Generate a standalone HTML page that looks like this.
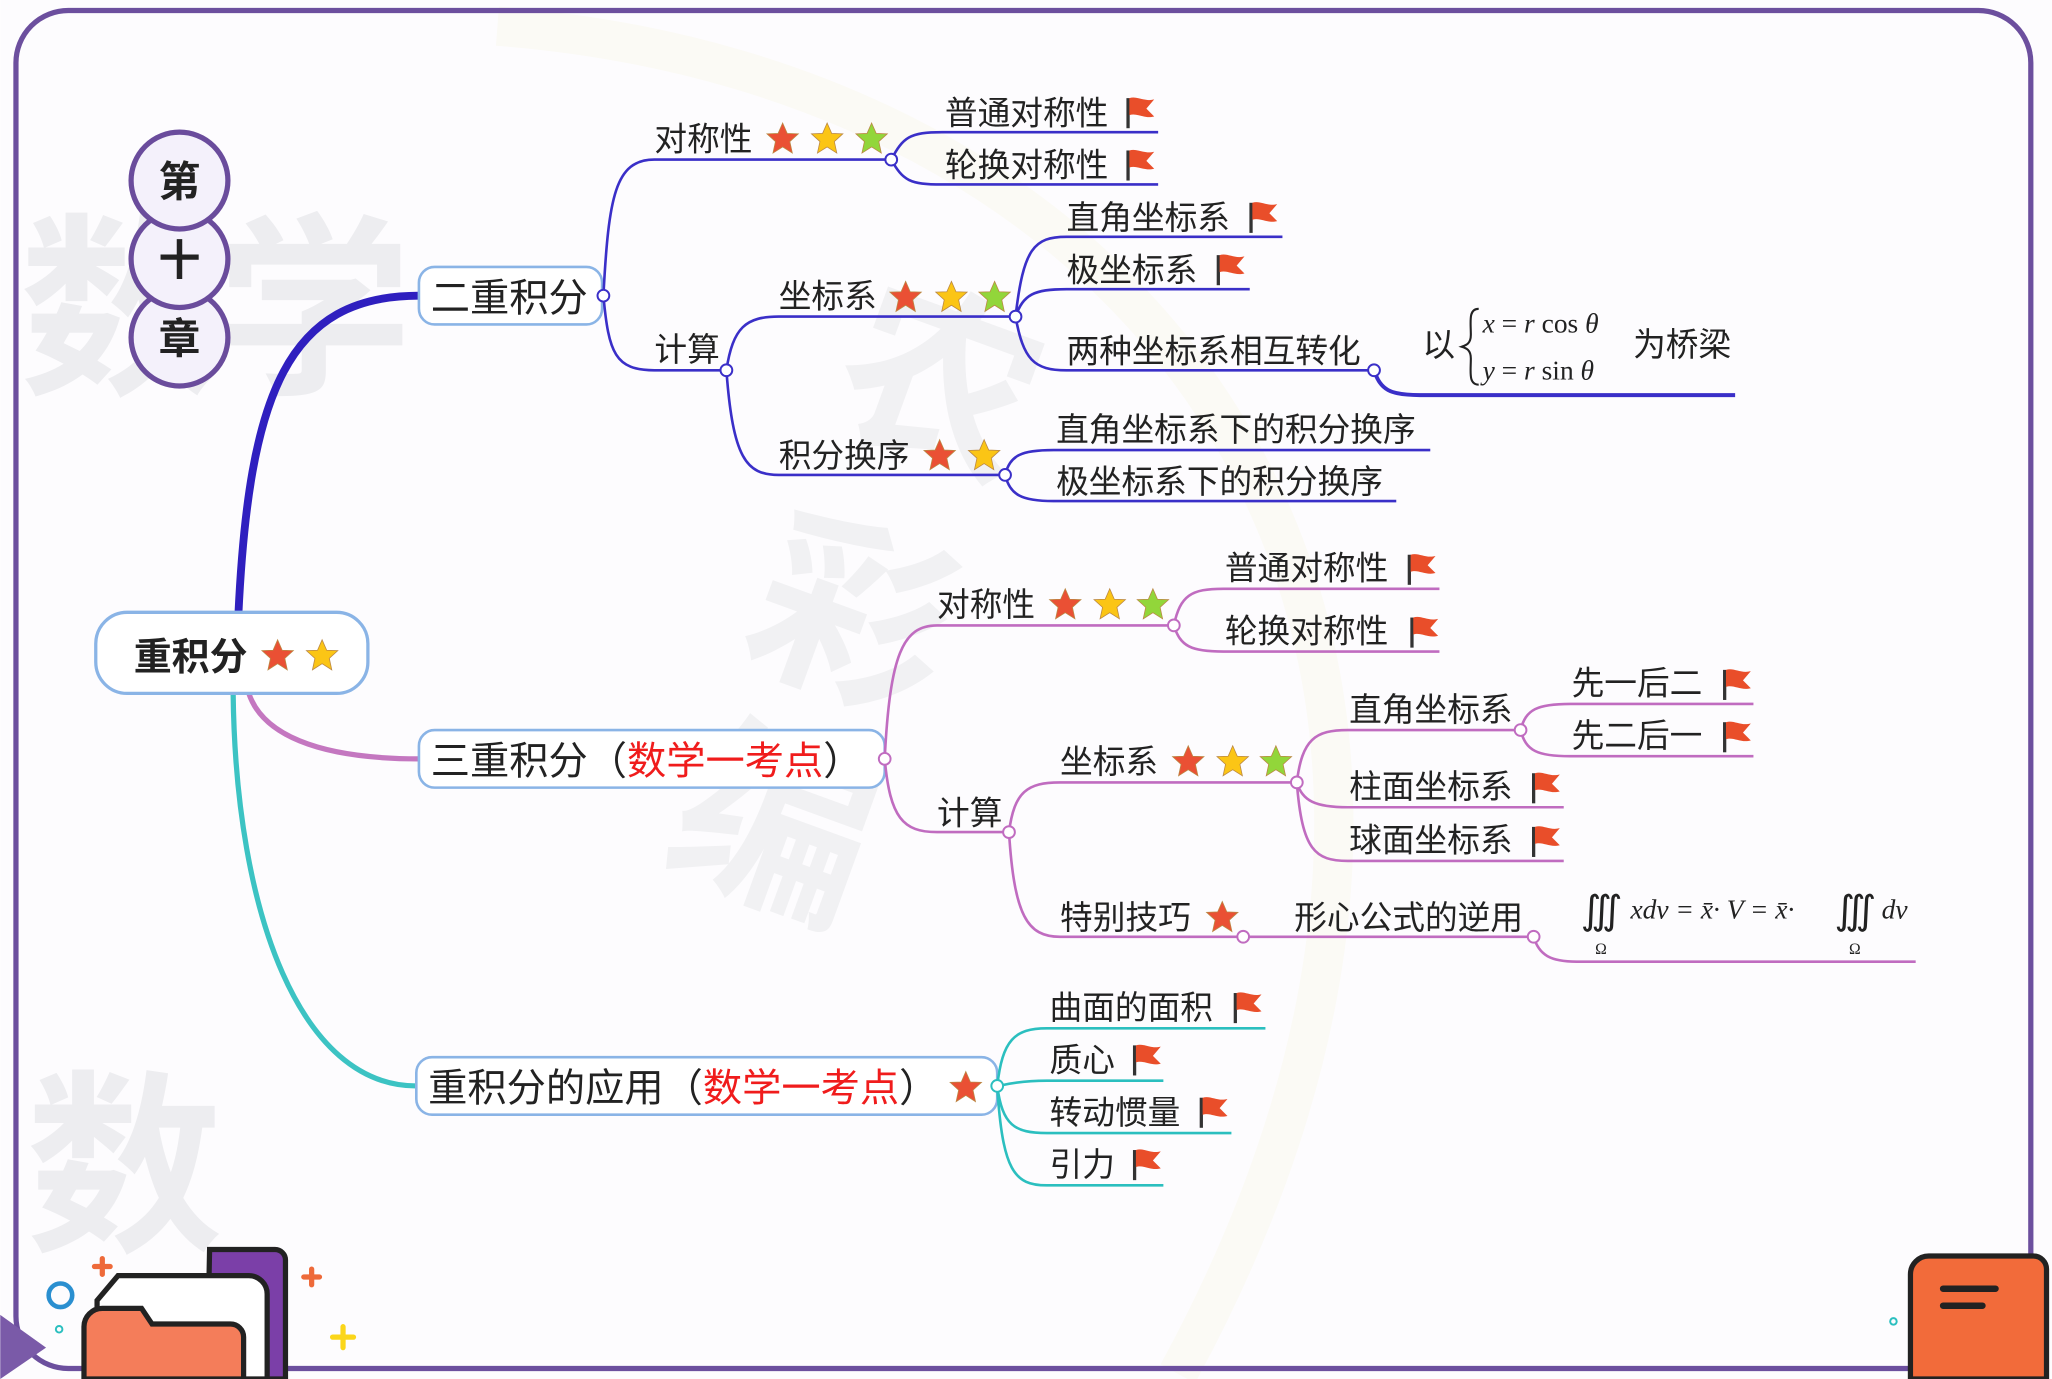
<!DOCTYPE html>
<html><head><meta charset="utf-8"><style>
html,body{margin:0;padding:0;background:#fff;}
svg{display:block;}
text{font-family:"Liberation Sans","Noto Sans CJK SC",sans-serif;fill:#222;}
.t{font-size:25px;}
.n{font-size:30px;}
.m{font-family:"Liberation Serif",serif;font-style:italic;font-size:21px;}
</style></head><body>
<svg width="2052" height="1379" viewBox="0 0 1568 1054" xmlns="http://www.w3.org/2000/svg">
<defs>
<g id="st"><path d="M0,-12 L3.5,-4 L12,-3.7 L5.5,2.2 L7.4,11 L0,6.3 L-7.4,11 L-5.5,2.2 L-12,-3.7 L-3.5,-4Z" stroke="#b84" stroke-width="0.6"/></g>
<g id="fl"><path d="M0,-11 L0,12" stroke="#333" stroke-width="2.5"/><path d="M1,-11 C7,-13 12,-8 20,-10 L14,-3 L20,3 C12,5 7,0 1,2Z" fill="#e94e2a"/></g>
</defs>
<rect width="1568" height="1054" fill="#fdfcfe"/>
<g font-weight="bold">
<text x="15" y="290" font-size="150" style="fill:#ededf0">数学</text>
<text x="20" y="945" font-size="150" style="fill:#ededf0">数</text>
<text x="640" y="340" font-size="150" style="fill:#f1f1f3" transform="rotate(20 700 300)">农</text>
<text x="580" y="520" font-size="150" style="fill:#f1f1f3" transform="rotate(20 640 460)">彩</text>
<text x="520" y="680" font-size="150" style="fill:#f1f1f3" transform="rotate(20 580 620)">编</text>
</g>
<path d="M380,20 C900,60 1200,500 900,1050" fill="none" stroke="#fbfaf5" stroke-width="30"/>
<rect x="12" y="8" width="1540" height="1038" rx="40" fill="none" stroke="#6c4f9e" stroke-width="4"/>
<g fill="#f4f1fb" stroke="#6a4c9c" stroke-width="4">
<circle cx="137" cy="258" r="37"/><circle cx="137" cy="198" r="37"/><circle cx="137" cy="138" r="37"/>
</g>
<g font-weight="bold" font-size="32" text-anchor="middle">
<text x="137" y="150">第</text><text x="137" y="210">十</text><text x="137" y="270">章</text>
</g>
<path d="M182,470 C190,300 220,226 320,226" fill="none" stroke="#2f1fbf" stroke-width="6"/>
<path d="M190,530 C200,560 240,580 320,580" fill="none" stroke="#c477c0" stroke-width="4"/>
<path d="M178,530 C180,700 230,830 318,830" fill="none" stroke="#3cc3c3" stroke-width="4"/>
<rect x="73" y="468" width="208" height="62" rx="24" fill="#fff" stroke="#8ab4e6" stroke-width="2.5"/>
<text x="102" y="512" font-size="29" font-weight="bold">重积分</text>
<use href="#st" x="212" y="501" fill="#ea5034"/><use href="#st" x="246" y="501" fill="#fbc515"/>
<rect x="320" y="204" width="140" height="44" rx="12" fill="#fff" stroke="#8ab4e6" stroke-width="2"/>
<text class="n" x="329" y="238">二重积分</text>
<rect x="320" y="558" width="356" height="44" rx="12" fill="#fff" stroke="#8ab4e6" stroke-width="2"/>
<text class="n" x="329" y="592">三重积分（<tspan style="fill:#f01c1c">数学一考点</tspan>）</text>
<rect x="318" y="808" width="444" height="44" rx="12" fill="#fff" stroke="#8ab4e6" stroke-width="2"/>
<text class="n" x="327" y="842">重积分的应用（<tspan style="fill:#f01c1c">数学一考点</tspan>）</text>
<use href="#st" x="738" y="831" fill="#ea5034"/>

<g fill="none" stroke="#3a2fc8" stroke-width="2">
<path d="M461,226 C465,150 470,122 500,122 L681,122"/>
<path d="M461,226 C465,270 470,283 500,283 L555,283"/>
<path d="M681,122 C690,105 695,101 720,101 L885,101"/>
<path d="M681,122 C690,138 695,141 720,141 L885,141"/>
<path d="M555,283 C560,250 570,242 595,242 L776,242"/>
<path d="M555,283 C560,350 570,363 595,363 L768,363"/>
<path d="M776,242 C782,190 790,181 815,181 L980,181"/>
<path d="M776,242 C782,225 790,221 815,221 L955,221"/>
<path d="M776,242 C782,275 790,283 815,283 L1050,283"/>
<path d="M1050,283 C1055,298 1062,302 1085,302 L1326,302" stroke-width="3"/>
<path d="M768,363 C772,348 780,344 805,344 L1093,344"/>
<path d="M768,363 C772,378 780,383 805,383 L1067,383"/>
</g>
<g fill="#fff" stroke="#3a2fc8" stroke-width="1.5">
<circle cx="461" cy="226" r="4.5"/><circle cx="681" cy="122" r="4.5"/><circle cx="555" cy="283" r="4.5"/>
<circle cx="776" cy="242" r="4.5"/><circle cx="768" cy="363" r="4.5"/><circle cx="1050" cy="283" r="4.5"/>
</g>
<text class="t" x="500" y="115">对称性</text>
<use href="#st" x="598" y="106" fill="#ea5034"/><use href="#st" x="632" y="106" fill="#fbc515"/><use href="#st" x="666" y="106" fill="#92d63a"/>
<text class="t" x="722" y="95">普通对称性</text><use href="#fl" x="862" y="86"/>
<text class="t" x="722" y="135">轮换对称性</text><use href="#fl" x="862" y="126"/>
<text class="t" x="500" y="276">计算</text>
<text class="t" x="595" y="235">坐标系</text>
<use href="#st" x="692" y="227" fill="#ea5034"/><use href="#st" x="727" y="227" fill="#fbc515"/><use href="#st" x="760" y="227" fill="#92d63a"/>
<text class="t" x="815" y="175">直角坐标系</text><use href="#fl" x="956" y="166"/>
<text class="t" x="815" y="215">极坐标系</text><use href="#fl" x="931" y="206"/>
<text class="t" x="815" y="277">两种坐标系相互转化</text>
<text class="t" x="1087" y="272">以</text>
<path d="M1130,236 C1122,236 1124,246 1124,256 C1124,263 1120,264 1117,265 C1120,266 1124,267 1124,274 C1124,284 1122,294 1130,294" fill="none" stroke="#222" stroke-width="1.6"/>
<text class="m" x="1133" y="254">x<tspan style="font-style:normal"> = </tspan>r<tspan style="font-style:normal"> cos </tspan>θ</text>
<text class="m" x="1133" y="290">y<tspan style="font-style:normal"> = </tspan>r<tspan style="font-style:normal"> sin </tspan>θ</text>
<text class="t" x="1248" y="272">为桥梁</text>
<text class="t" x="595" y="357">积分换序</text>
<use href="#st" x="718" y="348" fill="#ea5034"/><use href="#st" x="752" y="348" fill="#fbc515"/>
<text class="t" x="807" y="337">直角坐标系下的积分换序</text>
<text class="t" x="807" y="377">极坐标系下的积分换序</text>

<g fill="none" stroke="#c06cc0" stroke-width="2">
<path d="M676,580 C680,500 690,478 716,478 L897,478"/>
<path d="M676,580 C680,625 690,636 716,636 L771,636"/>
<path d="M897,478 C902,455 910,450 935,450 L1100,450"/>
<path d="M897,478 C902,494 910,498 935,498 L1100,498"/>
<path d="M771,636 C775,605 785,598 810,598 L991,598"/>
<path d="M771,636 C775,700 785,716 810,716 L1172,716"/>
<path d="M991,598 C995,565 1005,558 1030,558 L1162,558"/>
<path d="M991,598 C995,612 1005,617 1030,617 L1195,617"/>
<path d="M991,598 C995,650 1005,658 1030,658 L1195,658"/>
<path d="M1162,558 C1166,542 1175,538 1200,538 L1340,538"/>
<path d="M1162,558 C1166,574 1175,578 1200,578 L1340,578"/>
<path d="M1172,716 C1176,730 1185,735 1205,735 L1464,735"/>
</g>
<g fill="#fff" stroke="#c06cc0" stroke-width="1.5">
<circle cx="676" cy="580" r="4.5"/><circle cx="897" cy="478" r="4.5"/><circle cx="771" cy="636" r="4.5"/>
<circle cx="991" cy="598" r="4.5"/><circle cx="1162" cy="558" r="4.5"/><circle cx="950" cy="716" r="4.5"/><circle cx="1172" cy="716" r="4.5"/>
</g>
<text class="t" x="716" y="471">对称性</text>
<use href="#st" x="814" y="462" fill="#ea5034"/><use href="#st" x="848" y="462" fill="#fbc515"/><use href="#st" x="881" y="462" fill="#92d63a"/>
<text class="t" x="936" y="443">普通对称性</text><use href="#fl" x="1077" y="435"/>
<text class="t" x="936" y="491">轮换对称性</text><use href="#fl" x="1079" y="483"/>
<text class="t" x="716" y="630">计算</text>
<text class="t" x="810" y="591">坐标系</text>
<use href="#st" x="908" y="582" fill="#ea5034"/><use href="#st" x="942" y="582" fill="#fbc515"/><use href="#st" x="975" y="582" fill="#92d63a"/>
<text class="t" x="1031" y="551">直角坐标系</text>
<text class="t" x="1201" y="531">先一后二</text><use href="#fl" x="1318" y="523"/>
<text class="t" x="1201" y="571">先二后一</text><use href="#fl" x="1318" y="563"/>
<text class="t" x="1031" y="610">柱面坐标系</text><use href="#fl" x="1172" y="602"/>
<text class="t" x="1031" y="651">球面坐标系</text><use href="#fl" x="1172" y="643"/>
<text class="t" x="810" y="710">特别技巧</text><use href="#st" x="934" y="701" fill="#ea5034"/>
<text class="t" x="989" y="710">形心公式的逆用</text>
<text x="1208" y="706" font-size="30" style="font-family:'Liberation Serif',serif">∭</text>
<text class="m" x="1246" y="702">xdv = x̄· V = x̄·</text>
<text x="1402" y="706" font-size="30" style="font-family:'Liberation Serif',serif">∭</text>
<text class="m" x="1438" y="702">dv</text>
<text x="1219" y="729" font-size="12" style="font-family:'Liberation Serif',serif">Ω</text>
<text x="1413" y="729" font-size="12" style="font-family:'Liberation Serif',serif">Ω</text>

<g fill="none" stroke="#2bbfbf" stroke-width="2">
<path d="M762,830 C766,795 775,786 800,786 L967,786"/>
<path d="M762,830 C766,830 775,826 800,826 L889,826"/>
<path d="M762,830 C766,860 775,866 800,866 L941,866"/>
<path d="M762,830 C766,895 775,906 800,906 L889,906"/>
</g>
<circle cx="762" cy="830" r="4.5" fill="#fff" stroke="#2bbfbf" stroke-width="1.5"/>
<text class="t" x="802" y="779">曲面的面积</text><use href="#fl" x="944" y="770"/>
<text class="t" x="802" y="819">质心</text><use href="#fl" x="867" y="810"/>
<text class="t" x="802" y="859">转动惯量</text><use href="#fl" x="918" y="850"/>
<text class="t" x="802" y="899">引力</text><use href="#fl" x="867" y="890"/>

<path d="M0,1005 L35,1030 L0,1054Z" fill="#7a5aa8"/>
<circle cx="46" cy="990" r="9" fill="none" stroke="#2a8fd0" stroke-width="3.5"/>
<circle cx="45" cy="1016" r="2.5" fill="none" stroke="#2bbfbf" stroke-width="1.5"/>
<g stroke-width="4" stroke-linecap="round">
<path d="M78,962 v12 M72,968 h12" stroke="#ee6a3a"/>
<path d="M238,970 v12 M232,976 h12" stroke="#ee6a3a"/>
<path d="M262,1014 v16 M254,1022 h16" stroke="#fbd61a"/>
</g>
<path d="M160,955 h50 a8,8 0 0 1 8,8 v91 h-60Z" fill="#7b3fa8" stroke="#222" stroke-width="4"/>
<path d="M90,975 h100 a14,14 0 0 1 14,14 v65 h-130 v-60Z" fill="#fff" stroke="#222" stroke-width="4"/>
<path d="M64,1054 v-40 a14,14 0 0 1 14,-14 h30 l8,12 h60 a10,10 0 0 1 10,10 v32Z" fill="#f47d5a" stroke="#222" stroke-width="4"/>
<path d="M1460,1054 v-80 a14,14 0 0 1 14,-14 h80 a10,10 0 0 1 10,10 v84Z" fill="#f26b3a" stroke="#222" stroke-width="4"/>
<path d="M1485,985 h40 M1485,998 h30" stroke="#222" stroke-width="5" stroke-linecap="round"/>
<circle cx="1447" cy="1010" r="2.5" fill="none" stroke="#2bbfbf" stroke-width="1.5"/>
</svg>
</body></html>
